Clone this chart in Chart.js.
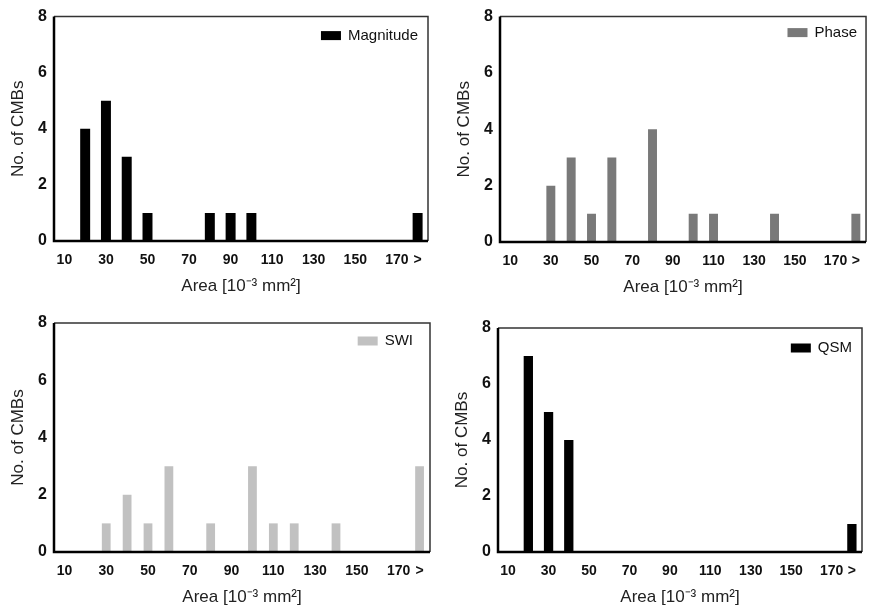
<!DOCTYPE html>
<html>
<head>
<meta charset="utf-8">
<script src="https://cdn.jsdelivr.net/npm/chart.js@4.4.0/dist/chart.umd.min.js"></script>
<style>
  body { margin: 0; background: #fff; }
  #wrap { position: relative; width: 871px; height: 608px; overflow: hidden; }
  canvas { position: absolute; }
</style>
</head>
<body>
<div id="wrap">
  <canvas id="c1" width="435" height="300" style="left:0;top:0"></canvas>
  <canvas id="c2" width="436" height="300" style="left:435px;top:0"></canvas>
  <canvas id="c3" width="435" height="308" style="left:0;top:300px"></canvas>
  <canvas id="c4" width="436" height="308" style="left:435px;top:300px"></canvas>
</div>
<script>
// area bins (10^-3 mm^2), last bin is "> 170"
const areaBins = ['10','20','30','40','50','60','70','80','90','100','110','120','130','140','150','160','170','>'];

// number of CMBs per bin
const magnitudeCounts = [0,4,5,3,1,0,0,1,1,1,0,0,0,0,0,0,0,1];
const phaseCounts     = [0,0,2,3,1,3,0,4,0,1,1,0,0,1,0,0,0,1];
const swiCounts       = [0,0,1,2,1,3,0,1,0,3,1,1,0,1,0,0,0,3];
const qsmCounts       = [0,7,5,4,0,0,0,0,0,0,0,0,0,0,0,0,0,1];

const yTicks = [0, 2, 4, 6, 8];

const FONT = 'Liberation Sans, Arial, sans-serif';

// frame around the plot area + legend in the top right corner
const framePlugin = {
  id: 'frame',
  afterDraw(chart, args, opts) {
    const { ctx, chartArea: a } = chart;
    ctx.save();
    ctx.strokeStyle = '#333';
    ctx.lineWidth = 1.5;
    ctx.beginPath();
    ctx.moveTo(a.left, a.top);
    ctx.lineTo(a.right, a.top);
    ctx.lineTo(a.right, a.bottom);
    ctx.stroke();
    ctx.strokeStyle = '#000';
    ctx.lineWidth = 2.5;
    ctx.beginPath();
    ctx.moveTo(a.left, a.top);
    ctx.lineTo(a.left, a.bottom);
    ctx.lineTo(a.right, a.bottom);
    ctx.stroke();

    // legend
    const ds = chart.data.datasets[0];
    ctx.font = '15px ' + FONT;
    ctx.textBaseline = 'middle';
    ctx.textAlign = 'right';
    const tx = a.right - opts.dx;
    const ty = a.top + opts.dy;
    ctx.fillStyle = '#111';
    ctx.fillText(ds.label, tx, ty);
    const tw = ctx.measureText(ds.label).width;
    ctx.fillStyle = ds.backgroundColor;
    ctx.fillRect(tx - tw - 7 - 20, ty - 4.5, 20, 9);
    ctx.restore();
  }
};

function makePanel(id, label, counts, color, box) {
  const c = document.getElementById(id);
  const W = c.width, H = c.height;
  return new Chart(c, {
    type: 'bar',
    data: {
      labels: areaBins,
      datasets: [{
        label: label,
        data: counts,
        backgroundColor: color,
        borderWidth: 0,
        barPercentage: box.bar,
        categoryPercentage: 1
      }]
    },
    options: {
      responsive: false,
      animation: false,
      layout: { padding: { left: 0, top: box.top, right: W - box.right, bottom: 0 } },
      plugins: {
        tooltip: { enabled: false },
        legend: { display: false },
        frame: { dx: box.ldx, dy: box.ldy }
      },
      scales: {
        x: {
          grid: { display: false, drawTicks: false },
          border: { display: false },
          ticks: {
            autoSkip: false,
            maxRotation: 0,
            padding: 11,
            color: '#111',
            font: { family: FONT, size: 14, weight: 'bold' },
            callback: (v, i) => (i % 2 === 0 || i === areaBins.length - 1) ? areaBins[i] : ''
          },
          title: {
            display: true,
            text: 'Area [10⁻³ mm²]',
            color: '#222',
            padding: { top: 0, bottom: H - box.bottom - 45 - 10.2 },
            font: { family: FONT, size: 17 }
          },
          afterFit: s => { s.height = H - box.bottom; }
        },
        y: {
          min: 0,
          max: 8,
          grid: { display: false, drawTicks: false },
          border: { display: false },
          afterBuildTicks: s => { s.ticks = yTicks.map(v => ({ value: v })); },
          ticks: {
            padding: 7,
            color: '#111',
            font: { family: FONT, size: 16, weight: 'bold' }
          },
          title: {
            display: true,
            text: 'No. of CMBs',
            color: '#222',
            padding: { top: box.left - 36 - 10.2, bottom: 0 },
            font: { family: FONT, size: 17 }
          },
          afterFit: s => { s.width = box.left; }
        }
      }
    },
    plugins: [framePlugin]
  });
}

makePanel('c1', 'Magnitude', magnitudeCounts, '#000000', { left: 54, top: 15, right: 428, bottom: 241, bar: 0.48, ldx: 10, ldy: 19 });
makePanel('c2', 'Phase', phaseCounts, '#797979', { left: 65, top: 11, right: 434, bottom: 242, bar: 0.44, ldx: 9, ldy: 16 });
makePanel('c3', 'SWI', swiCounts, '#c1c1c1', { left: 54, top: 23, right: 430, bottom: 252, bar: 0.42, ldx: 17, ldy: 18 });
makePanel('c4', 'QSM', qsmCounts, '#000000', { left: 63, top: 28, right: 427, bottom: 252, bar: 0.46, ldx: 10, ldy: 20 });
</script>
</body>
</html>
